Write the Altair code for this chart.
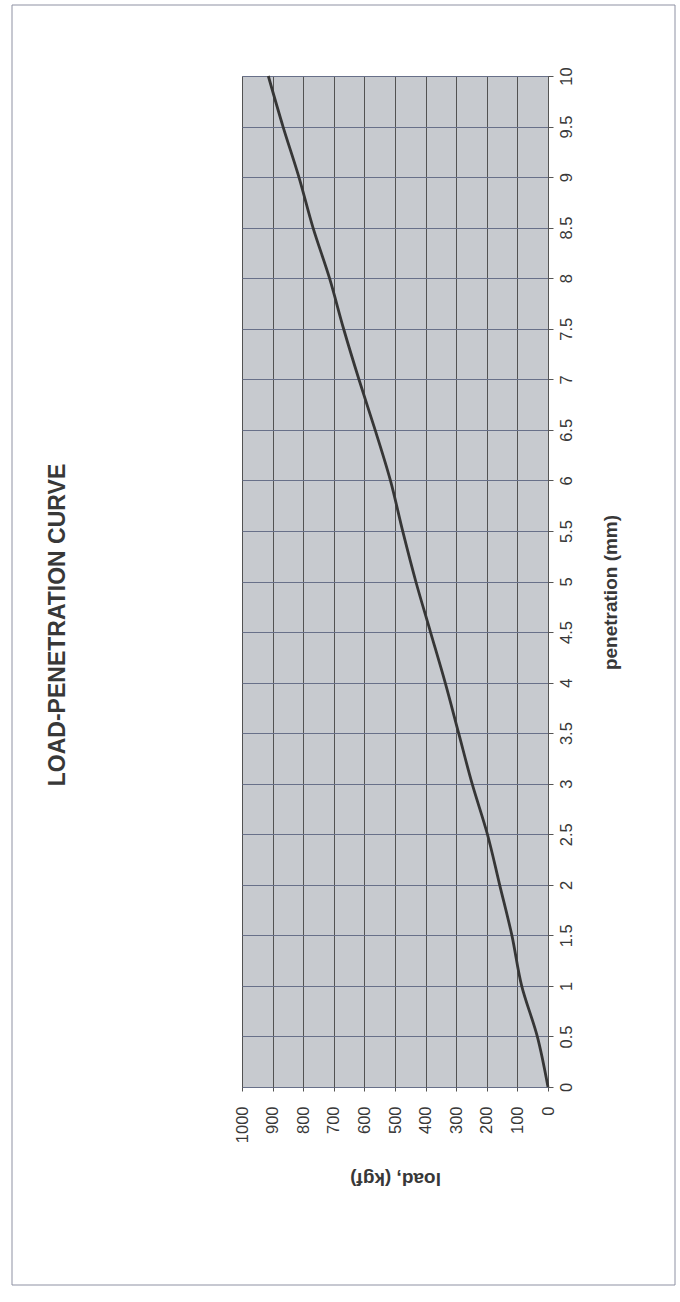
import altair as alt
import pandas as pd

# Load-penetration test readings
penetration_mm = [0, 0.5, 1, 1.5, 2, 2.5, 3, 3.5, 4, 4.5, 5,
                  5.5, 6, 6.5, 7, 7.5, 8, 8.5, 9, 9.5, 10]
load_kgf = [0, 35, 86, 118, 158, 198, 248, 292, 336, 384, 432,
            475, 515, 565, 618, 668, 714, 768, 814, 866, 914]

pen_ticks = [i * 0.5 for i in range(21)]
load_ticks = list(range(0, 1001, 100))

df = pd.DataFrame({"penetration": penetration_mm, "load": load_kgf})

FONT = "Liberation Sans"
PLOT_W, PLOT_H = 306, 1011
INK = "#383838"

x_enc = alt.X(
    "load:Q",
    scale=alt.Scale(domain=[0, 1000], reverse=True, nice=False, zero=True),
    axis=alt.Axis(
        orient="bottom",
        values=load_ticks,
        labelExpr="datum.value",
        title="load, (kgf)",
        grid=True,
        gridColor="#525252",
        gridWidth=1,
        domain=False,
        ticks=True,
        tickColor="#525252",
        tickSize=4,
        labelAngle=270,
        labelAlign="right",
        labelBaseline="middle",
        labelPadding=15,
        labelFont=FONT,
        labelFontSize=16.5,
        labelColor=INK,
        titleFont=FONT,
        titleFontSize=19,
        titleFontWeight="bold",
        titleColor=INK,
        titleAngle=180,
        titleAlign="center",
        titleBaseline="middle",
        titleX=PLOT_W / 2,
        titleY=91,
    ),
)

y_enc = alt.Y(
    "penetration:Q",
    scale=alt.Scale(domain=[0, 10], nice=False),
    axis=alt.Axis(
        orient="right",
        values=pen_ticks,
        labelExpr="datum.value",
        title="penetration (mm)",
        grid=True,
        gridColor="#687089",
        gridWidth=1,
        domain=True,
        domainColor="#555555",
        ticks=True,
        tickColor="#555555",
        tickSize=5,
        labelAngle=270,
        labelAlign="center",
        labelBaseline="top",
        labelPadding=5,
        labelFont=FONT,
        labelFontSize=16.5,
        labelColor=INK,
        titleFont=FONT,
        titleFontSize=19,
        titleFontWeight="bold",
        titleColor=INK,
        titleAngle=270,
        titleAlign="center",
        titleBaseline="middle",
        titleX=62,
        titleY=516,
    ),
)

curve = (
    alt.Chart(df)
    .mark_line(color="#363636", strokeWidth=2.8, interpolate="catmull-rom")
    .encode(x=x_enc, y=y_enc, order="penetration:Q")
)

one = pd.DataFrame({"t": ["LOAD-PENETRATION CURVE"]})

heading = (
    alt.Chart(one)
    .mark_text(
        angle=270,
        align="center",
        baseline="middle",
        font=FONT,
        fontSize=23,
        fontWeight="bold",
        color=INK,
    )
    .encode(x=alt.value(-184), y=alt.value(549), text="t:N")
)

frame = (
    alt.Chart(one)
    .mark_rect(fill=None, fillOpacity=0, stroke="#8e91a3", strokeWidth=1)
    .encode(
        x=alt.value(-230),
        x2=alt.value(433),
        y=alt.value(-71),
        y2=alt.value(1209),
    )
)

chart = (
    alt.layer(frame, curve, heading)
    .properties(
        width=PLOT_W,
        height=PLOT_H,
        autosize=alt.AutoSizeParams(type="none"),
        padding={"left": 242, "top": 76, "right": 132, "bottom": 215},
        background="#ffffff",
    )
    .configure_view(
        fill="#c7cacf",
        stroke="#6a6a6a",
        strokeDash=[4, 2],
        strokeWidth=1,
    )
)

chart.save("out.html", embed_options={"renderer": "svg", "actions": False})
